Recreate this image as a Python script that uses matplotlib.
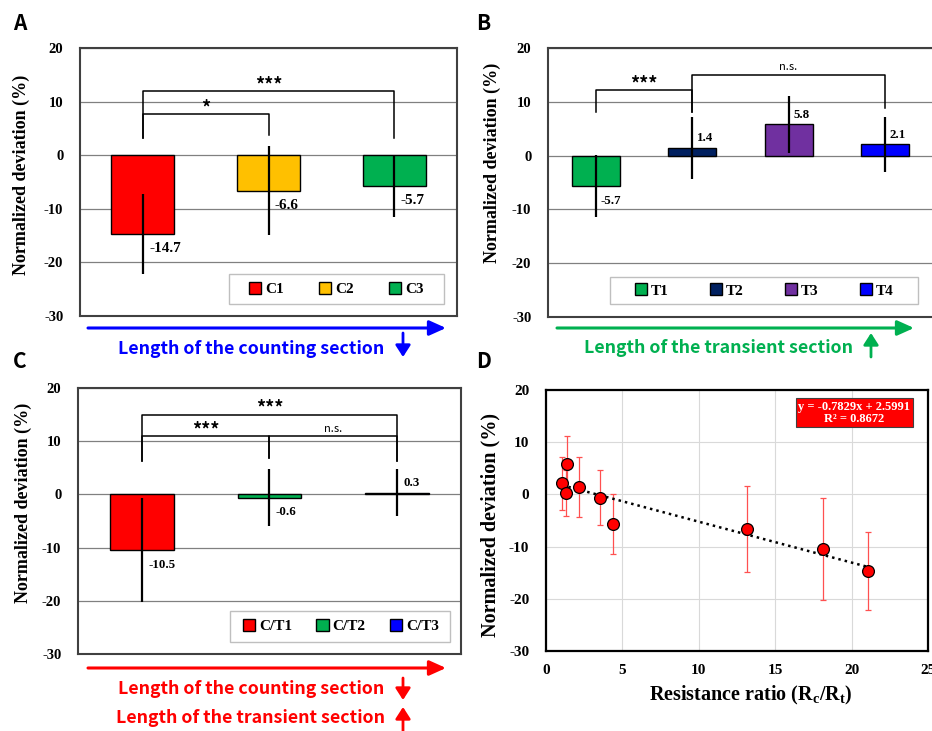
import matplotlib
matplotlib.use('Agg')
import matplotlib.pyplot as plt
from matplotlib.patches import Patch, Rectangle, FancyArrowPatch

SERIF = 'Liberation Serif'
SANS = ['Noto Sans CJK KR', 'DejaVu Sans']

plt.rcParams['font.family'] = SERIF
plt.rcParams['font.weight'] = 'bold'
plt.rcParams['axes.unicode_minus'] = False
plt.rcParams['mathtext.fontset'] = 'custom'
plt.rcParams['mathtext.rm'] = 'Liberation Serif:bold'
plt.rcParams['mathtext.it'] = 'Liberation Serif:bold'
plt.rcParams['mathtext.bf'] = 'Liberation Serif:bold'

# A: counting section
a_labels = ['C1', 'C2', 'C3']
a_values = [-14.7, -6.6, -5.7]
a_errors = [7.5, 8.3, 5.8]
a_colors = ['#ff0000', '#ffc000', '#00b050']

# B: transient section
b_labels = ['T1', 'T2', 'T3', 'T4']
b_values = [-5.7, 1.4, 5.8, 2.1]
b_errors = [5.8, 5.7, 5.3, 5.1]
b_colors = ['#00b050', '#002060', '#7030a0', '#0000ff']

# C: both
c_labels = ['C/T1', 'C/T2', 'C/T3']
c_values = [-10.5, -0.6, 0.3]
c_errors = [9.8, 5.3, 4.4]
c_colors = ['#ff0000', '#00b050', '#0000ff']

# D: deviation vs resistance ratio
d_ratio = [1.05, 1.38, 1.31, 2.18, 3.56, 4.39, 13.17, 18.14, 21.09]
d_values = [2.1, 5.8, 0.3, 1.4, -0.6, -5.7, -6.6, -10.5, -14.7]
d_errors = [5.1, 5.3, 4.4, 5.7, 5.3, 5.8, 8.3, 9.8, 7.5]
fit_slope = -0.7829
fit_icpt = 2.5991
fit_r2 = 0.8672

# brackets: (bar i, bar j, top, leg end at i, leg end at j, text)
a_brackets = [(0, 2, 11.9, 3.2, 3.2, '***'), (0, 1, 7.7, 3.2, 3.8, '*')]
b_brackets = [(0, 1, 12.2, 8.1, 8.1, '***'), (1, 3, 15.0, 8.1, 8.9, 'n.s.')]
c_brackets = [(0, 2, 15.0, 6.2, 6.2, '***'), (0, 1, 10.9, 6.2, 6.9, '***'),
              (1, 2, 10.9, 6.9, 6.2, 'n.s.')]


def bar_panel(ax, labels, values, errors, colors, brackets, val_size,
              leg_center, leg_rect, colspace, ylab_pos):
    x = list(range(len(values)))
    ax.bar(x, values, width=0.5, color=colors, edgecolor='black', linewidth=1, zorder=3)
    ax.errorbar(x, values, yerr=errors, fmt='none', ecolor='black',
                elinewidth=1.6, capsize=0, zorder=4)
    for i, v in enumerate(values):
        y = v + 1.8 if v > 0 else v - 2.7
        ax.text(i + 0.05, y, f'{v:.1f}', ha='left', va='center',
                fontsize=val_size, fontweight='bold', zorder=5)
    for i, j, top, lo_i, lo_j, txt in brackets:
        ax.plot([i, i, j, j], [lo_i, top, top, lo_j], color='black', lw=1.1, zorder=4)
        if txt == 'n.s.':
            ax.text((i + j) / 2, top + 0.5, txt, ha='center', va='bottom',
                    fontsize=8, fontweight='normal', family=SANS)
        else:
            ax.text((i + j) / 2, top - 0.6, txt, ha='center', va='bottom',
                    fontsize=13, fontweight='bold', family=SANS)
    ax.set_xlim(-0.5, len(values) - 0.5)
    ax.set_ylim(-30, 20)
    ax.set_yticks(range(-30, 21, 10))
    ax.set_xticks([])
    ax.yaxis.grid(True, color='#808080', lw=0.9)
    ax.set_axisbelow(True)
    ax.tick_params(axis='y', length=0, pad=12, labelsize=10.5)
    for s in ax.spines.values():
        s.set_color('#404040')
        s.set_linewidth(1.5)
    ax.set_ylabel('Normalized deviation (%)', fontsize=13, fontweight='bold')
    ax.yaxis.set_label_coords(*ylab_pos)
    ax.add_patch(Rectangle(leg_rect[:2], leg_rect[2], leg_rect[3], transform=ax.transAxes,
                           facecolor='white', edgecolor='#bfbfbf', lw=1, zorder=6))
    handles = [Patch(facecolor=c, edgecolor='black', label=l) for l, c in zip(labels, colors)]
    leg = ax.legend(handles=handles, ncol=len(labels), loc='center', bbox_to_anchor=leg_center,
                    frameon=False, fontsize=11, handlelength=0.8, handleheight=0.8,
                    handletextpad=0.25, columnspacing=colspace)
    leg.set_zorder(7)


def fig_arrow(fig, start, end, color, lw, hl, hw):
    style = f'-|>,head_length={hl},head_width={hw}'
    fig.add_artist(FancyArrowPatch(start, end, transform=fig.transFigure, arrowstyle=style,
                                   mutation_scale=10, color=color, lw=lw,
                                   shrinkA=0, shrinkB=0))


fig = plt.figure(figsize=(9.32, 7.31), dpi=100)
W, H = 932, 731


def px_axes(l, r, t, b):
    return fig.add_axes([l / W, 1 - b / H, (r - l) / W, (b - t) / H])


ax_a = px_axes(80, 457, 48, 316)
ax_b = px_axes(548, 933, 48, 317)
ax_c = px_axes(78, 461, 388, 654)
ax_d = px_axes(546, 928, 390, 651)

bar_panel(ax_a, a_labels, a_values, a_errors, a_colors, a_brackets, 11,
          (0.68, 0.101), (0.395, 0.045, 0.571, 0.112), 2.3, (-0.133, 0.526))
bar_panel(ax_b, b_labels, b_values, b_errors, b_colors, b_brackets, 9.3,
          (0.561, 0.0985), (0.161, 0.048, 0.8, 0.101), 2.7, (-0.122, 0.574))
bar_panel(ax_c, c_labels, c_values, c_errors, c_colors, c_brackets, 9.3,
          (0.686, 0.1045), (0.396, 0.046, 0.575, 0.117), 1.6, (-0.121, 0.57))

# panel D
ax = ax_d
ax.errorbar(d_ratio, d_values, yerr=d_errors, fmt='none', ecolor='#ff5050',
            elinewidth=0.9, capsize=2, capthick=0.9, zorder=3)
xs = [min(d_ratio), max(d_ratio)]
ax.plot(xs, [fit_slope * v + fit_icpt for v in xs], color='black', lw=1.8,
        ls=(0, (1, 1.6)), zorder=4)
ax.plot(d_ratio, d_values, 'o', color='#ff0000', mec='black', mew=0.9, ms=8.5, zorder=5)
ax.set_xlim(0, 25)
ax.set_ylim(-30, 20)
ax.set_xticks(range(0, 26, 5))
ax.set_yticks(range(-30, 21, 10))
ax.grid(True, color='#d9d9d9', lw=0.8)
ax.set_axisbelow(True)
ax.tick_params(length=0, labelsize=11)
ax.tick_params(axis='y', pad=12)
ax.tick_params(axis='x', pad=9)
for s in ax.spines.values():
    s.set_color('black')
    s.set_linewidth(1.6)
ax.set_ylabel('Normalized deviation (%)', fontsize=14.5, fontweight='bold')
ax.yaxis.set_label_coords(-0.118, 0.482)
ax.set_xlabel(r'Resistance ratio (R$_\mathrm{c}$/R$_\mathrm{t}$)', fontsize=14.5, fontweight='bold')
ax.xaxis.set_label_coords(0.537, -0.125)
ax.text(0.807, 0.9125, f'y = {fit_slope}x + {fit_icpt}\nR\u00b2 = {fit_r2}', transform=ax.transAxes,
        ha='center', va='center', color='white', fontsize=9, fontweight='bold', linespacing=1.0,
        bbox=dict(boxstyle='square,pad=0.2', facecolor='#ff0000', edgecolor='#404040', lw=0.8))

# panel letters
for txt, x, y in [('A', 13, 30), ('B', 476, 30), ('C', 13, 368), ('D', 476, 368)]:
    fig.text(x / W, 1 - y / H, txt, fontsize=15, fontweight='bold', family=SANS, va='baseline')

# direction arrows and captions
blue, green, red = '#0000ff', '#00b050', '#ff0000'
fig_arrow(fig, (88 / W, 1 - 328 / H), (446 / W, 1 - 328 / H), blue, 2.2, 1.0, 0.45)
fig.text(251 / W, 1 - 349 / H, 'Length of the counting section', color=blue, fontsize=12.8,
         fontweight='bold', family=SANS, ha='center', va='center')
fig_arrow(fig, (403 / W, 1 - 333 / H), (403 / W, 1 - 357 / H), blue, 2.0, 0.7, 0.45)

fig_arrow(fig, (557 / W, 1 - 328 / H), (914 / W, 1 - 328 / H), green, 2.2, 1.0, 0.45)
fig.text(719 / W, 1 - 348 / H, 'Length of the transient section', color=green, fontsize=12.8,
         fontweight='bold', family=SANS, ha='center', va='center')
fig_arrow(fig, (871 / W, 1 - 357 / H), (871 / W, 1 - 333 / H), green, 2.0, 0.7, 0.45)

fig_arrow(fig, (88 / W, 1 - 668 / H), (446 / W, 1 - 668 / H), red, 2.2, 1.0, 0.45)
fig.text(251 / W, 1 - 689 / H, 'Length of the counting section', color=red, fontsize=12.8,
         fontweight='bold', family=SANS, ha='center', va='center')
fig_arrow(fig, (403 / W, 1 - 678 / H), (403 / W, 1 - 700 / H), red, 2.0, 0.7, 0.45)
fig.text(251 / W, 1 - 718 / H, 'Length of the transient section', color=red, fontsize=12.8,
         fontweight='bold', family=SANS, ha='center', va='center')
fig_arrow(fig, (403 / W, 1 - 731 / H), (403 / W, 1 - 707 / H), red, 2.0, 0.7, 0.45)

fig.savefig('out.png', dpi=100)
